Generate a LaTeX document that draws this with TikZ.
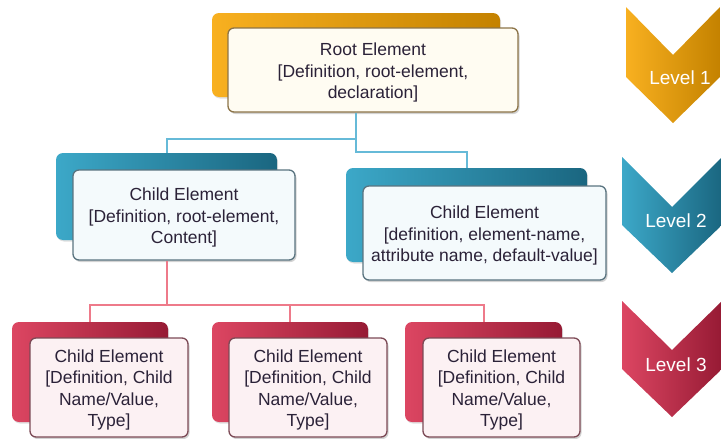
\documentclass[tikz,border=0pt]{standalone}
\usepackage{fontspec}
\setmainfont{Liberation Sans}
\usetikzlibrary{shadows}
\definecolor{orA}{HTML}{F8B020}
\definecolor{orB}{HTML}{C48200}
\definecolor{tlA}{HTML}{3CA8C8}
\definecolor{tlB}{HTML}{1A6680}
\definecolor{rdA}{HTML}{DC4662}
\definecolor{rdB}{HTML}{961A34}
\definecolor{txt}{HTML}{2B2238}
\definecolor{bline}{HTML}{66BAD8}
\definecolor{rline}{HTML}{EE7A8A}
\definecolor{orF}{HTML}{FFFCF2}
\definecolor{orD}{HTML}{8C7448}
\definecolor{tlF}{HTML}{F4FAFC}
\definecolor{tlD}{HTML}{5A7480}
\definecolor{rdF}{HTML}{FCF1F3}
\definecolor{rdD}{HTML}{7C4A56}
\tikzset{
  backbase/.style={rounded corners=7pt, inner sep=0pt, draw=none,
    drop shadow={opacity=.25, shadow xshift=1pt, shadow yshift=-1.5pt}},
  orback/.style={backbase, left color=orA, right color=orB},
  tlback/.style={backbase, left color=tlA, right color=tlB},
  rdback/.style={backbase, left color=rdA, right color=rdB},
  frontbase/.style={rounded corners=6pt, line width=1.3pt, inner sep=0pt,
    drop shadow={opacity=.35, shadow xshift=1.5pt, shadow yshift=-2pt}},
  orfront/.style={frontbase, fill=orF, draw=orD},
  tlfront/.style={frontbase, fill=tlF, draw=tlD},
  rdfront/.style={frontbase, fill=rdF, draw=rdD},
  boxtext/.style={align=center, font=\fontsize{17.5}{21.5}\selectfont,
    text=txt, inner sep=0pt, yshift=-2.5pt},
  bluelink/.style={draw=bline, line width=2pt},
  redlink/.style={draw=rline, line width=2pt},
  levtext/.style={text=white, font=\fontsize{19}{22}\selectfont, inner sep=0pt},
}
\newcommand{\boxat}[6]{% style, name, x1, y1, x2, y2
  \node[#1, minimum width={#5-#3}, minimum height={#6-#4}] (#2) at ({(#3+#5)/2},{(#4+#6)/2}) {};}
\begin{document}
\begin{tikzpicture}[x=1pt,y=-1pt]
\useasboundingbox (0,0) rectangle (721,439);
% chevrons
\shade[left color=orA, right color=orB] (626,7) -- (673,55) -- (720,7) -- (720,77) -- (673,123) -- (626,77) -- cycle;
\node[levtext] (lv1) at (680,78) {Level 1};
\shade[left color=tlA, right color=tlB] (622,157) -- (672,207) -- (722,157) -- (722,225) -- (672,273) -- (622,225) -- cycle;
\node[levtext] (lv2) at (676,221) {Level 2};
\shade[left color=rdA, right color=rdB] (622,301) -- (672,350) -- (722,301) -- (722,369) -- (672,417) -- (622,369) -- cycle;
\node[levtext] (lv3) at (676,365) {Level 3};
% root
\boxat{orback}{rb}{212}{13}{500}{97}
\boxat{orfront}{rf}{228}{28}{518}{112}
\node[boxtext] (rt) at (rf.center) {Root Element\\{}[Definition, root-element,\\declaration]};
% level 2
\boxat{tlback}{lb}{56}{153}{277}{240}
\boxat{tlfront}{lf}{73}{170}{295}{260}
\node[boxtext] (lt) at (lf.center) {Child Element\\{}[Definition, root-element,\\Content]};
\boxat{tlback}{qb}{346}{168}{587}{262}
\boxat{tlfront}{qf}{363}{186}{606}{280}
\node[boxtext] (qt) at (qf.center) {Child Element\\{}[definition, element-name,\\attribute name, default-value]};
% level 3
\boxat{rdback}{ab}{12}{322}{168}{422}
\boxat{rdfront}{af}{30}{338}{188}{437}
\node[boxtext] (at3) at (af.center) {Child Element\\{}[Definition, Child\\Name/Value,\\Type]};
\boxat{rdback}{bb}{212}{322}{368}{422}
\boxat{rdfront}{bf}{229}{338}{387}{437}
\node[boxtext] (bt3) at (bf.center) {Child Element\\{}[Definition, Child\\Name/Value,\\Type]};
\boxat{rdback}{cb}{405}{322}{562}{422}
\boxat{rdfront}{cf}{423}{338}{580}{437}
\node[boxtext] (ct3) at (cf.center) {Child Element\\{}[Definition, Child\\Name/Value,\\Type]};
% connectors
\coordinate (jb1) at (0,139);
\coordinate (jb2) at (0,152);
\coordinate (jr) at (0,305);
\draw[bluelink] (rb.center |- rf.south) -- (rb.center |- jb1) -| (lb.north);
\draw[bluelink] (rb.center |- rf.south) -- (rb.center |- jb2) -| (qb.north);
\draw[redlink] (lb.center |- lf.south) -- (lb.center |- jr) -| (ab.north);
\draw[redlink] (lb.center |- jr) -| (bb.north);
\draw[redlink] (lb.center |- jr) -| (cb.north);
\end{tikzpicture}
\end{document}
